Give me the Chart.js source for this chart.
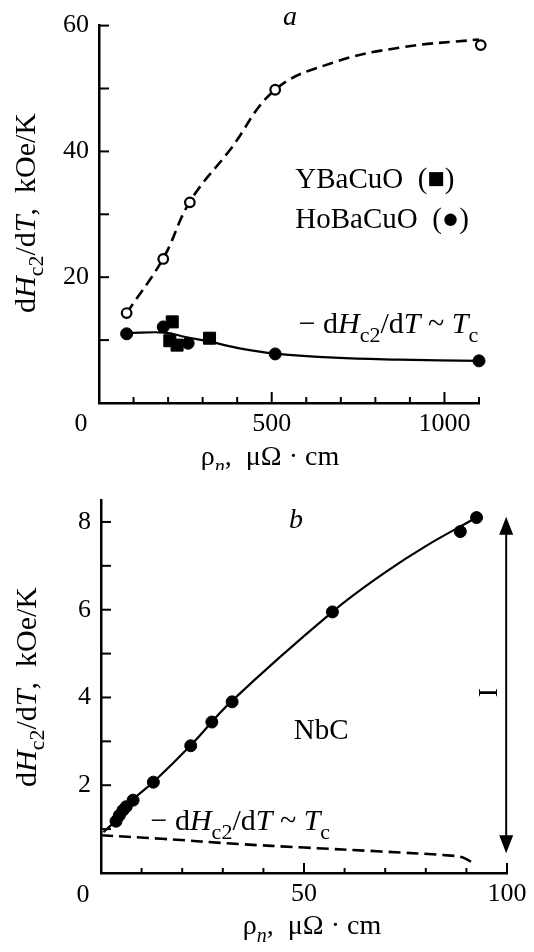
<!DOCTYPE html>
<html>
<head>
<meta charset="utf-8">
<script src="https://cdn.jsdelivr.net/npm/chart.js@4.4.1/dist/chart.umd.min.js"></script>
<style>
html, body { margin: 0; padding: 0; background: #fff; }
canvas { display: block; }
</style>
</head>
<body>
<canvas id="panelA" width="534" height="470"></canvas>
<canvas id="panelB" width="534" height="482"></canvas>
<script>
// panel a: rho_n (uOhm cm) vs dHc2/dT (kOe/K)
const rhoOpenA = [80, 186, 263, 510, 1105];
const dhOpenA = [14.3, 22.9, 31.9, 49.8, 56.9];
const rhoHoA = [80, 186, 258, 510, 1100];
const dhHoA = [11.0, 12.1, 9.5, 7.8, 6.7];
const rhoYA = [212, 205, 226, 320];
const dhYA = [12.9, 9.9, 9.2, 10.3];
const rhoUpperFitA = [80, 186, 263, 380, 510, 677, 870, 1100];
const dhUpperFitA = [14.3, 23, 32, 40.3, 49.8, 54.1, 56.5, 57.8];
const rhoTcFitA = [80, 190, 250, 320, 415, 510, 680, 870, 1100];
const dhTcFitA = [11.1, 11.2, 10.5, 9.75, 8.6, 7.85, 7.2, 6.9, 6.7];

// panel b: NbC
const rhoB = [3.7, 4.5, 5.4, 6.2, 7.9, 12.9, 22.1, 27.3, 32.3, 57.0, 88.5, 92.5];
const dhB = [1.18, 1.31, 1.43, 1.51, 1.66, 2.07, 2.90, 3.44, 3.90, 5.95, 7.78, 8.10];
const rhoFitB = [0.6, 3.7, 8, 13, 22, 32, 57, 70, 80, 92.5];
const dhFitB = [0.93, 1.2, 1.68, 2.08, 2.9, 3.9, 5.95, 6.85, 7.45, 8.1];
const rhoTcB = [0, 15, 34, 50, 69, 87, 89.5, 92];
const dhTcB = [0.86, 0.78, 0.66, 0.58, 0.49, 0.39, 0.34, 0.2];

const yTicksA = [20, 40, 60];
const xTicksA = [500, 1000];
const yTicksB = [2, 4, 6, 8];
const xTicksB = [50, 100];

const SERIF = '"Liberation Serif", "Times New Roman", serif';

function pts(xs, ys) {
    return xs.map(function (x, i) { return { x: x, y: ys[i] }; });
}

// draws runs of text: [text, style], style has 'i' for italic, 's' for subscript
function richText(ctx, runs, x, y, size, align) {
    const fontFor = function (st) {
        const sub = st.indexOf('s') >= 0;
        const it = st.indexOf('i') >= 0;
        return (it ? 'italic ' : '') + Math.round(sub ? size * 0.72 : size) + 'px ' + SERIF;
    };
    let total = 0;
    runs.forEach(function (r) {
        ctx.font = fontFor(r[1]);
        total += ctx.measureText(r[0]).width;
    });
    let cx = x;
    if (align === 'center') cx = x - total / 2;
    ctx.textAlign = 'left';
    ctx.textBaseline = 'alphabetic';
    ctx.fillStyle = '#000';
    runs.forEach(function (r) {
        ctx.font = fontFor(r[1]);
        const dy = r[1].indexOf('s') >= 0 ? size * 0.28 : 0;
        ctx.fillText(r[0], cx, y + dy);
        cx += ctx.measureText(r[0]).width;
    });
}

const yTitleRuns = [['d', ''], ['H', 'i'], ['c2', 's'], ['/d', ''], ['T', 'i'], [',  kOe/K', '']];
const xTitleRuns = [['\u03c1', ''], ['n', 'si'], [',  \u03bc\u03a9 \u00b7 cm', '']];
const tcRuns = [['\u2212 d', ''], ['H', 'i'], ['c2', 's'], ['/d', ''], ['T', 'i'], [' ~ ', ''], ['T', 'i'], ['c', 's']];

function drawFrame(chart, o) {
    const ctx = chart.ctx;
    const a = chart.chartArea;
    const xs = chart.scales.x, ys = chart.scales.y;
    ctx.save();
    ctx.strokeStyle = '#000';
    ctx.lineWidth = 2;
    xs.ticks.forEach(function (t) {
        if (t.value === 0) return;
        const px = xs.getPixelForValue(t.value);
        const len = o.xMajor.indexOf(t.value) >= 0 ? o.xLong : o.xShort;
        ctx.beginPath();
        ctx.moveTo(px, a.bottom);
        ctx.lineTo(px, a.bottom - len);
        ctx.stroke();
    });
    ys.ticks.forEach(function (t) {
        if (t.value === 0) return;
        const py = ys.getPixelForValue(t.value);
        ctx.beginPath();
        ctx.moveTo(a.left, py);
        ctx.lineTo(a.left + o.yLen, py);
        ctx.stroke();
    });
    // shared origin label
    ctx.fillStyle = '#000';
    ctx.font = '26px ' + SERIF;
    ctx.textAlign = 'center';
    ctx.textBaseline = 'middle';
    ctx.fillText('0', a.left - 18, a.bottom + o.labelGap + 15.6);
    // axis titles
    ctx.save();
    ctx.translate(o.yTitleX, o.yTitleY);
    ctx.rotate(-Math.PI / 2);
    richText(ctx, yTitleRuns, 0, 0, 30, 'center');
    ctx.restore();
    richText(ctx, xTitleRuns, o.xTitleX, o.xTitleY, 28, 'center');
    ctx.restore();
}

const panelAPlugin = {
    id: 'panelA',
    afterDatasetsDraw(chart) {
        const ctx = chart.ctx;
        const xs = chart.scales.x, ys = chart.scales.y;
        drawFrame(chart, {
            xMajor: xTicksA, xLong: 11, xShort: 6, yLen: 10, labelGap: 6,
            yTitleX: 35, yTitleY: 213, xTitleX: 270, xTitleY: 465
        });
        ctx.save();
        ctx.fillStyle = '#000';
        ctx.font = 'italic 28px ' + SERIF;
        ctx.textAlign = 'center';
        ctx.textBaseline = 'alphabetic';
        ctx.fillText('a', 290, 25);
        ctx.font = '29px ' + SERIF;
        ctx.textAlign = 'left';
        ctx.fillText('YBaCuO  (\u25a0)', xs.getPixelForValue(568), 188);
        ctx.fillText('HoBaCuO  (\u25cf)', xs.getPixelForValue(568), 228);
        richText(ctx, tcRuns, xs.getPixelForValue(578), ys.getPixelForValue(11.1), 30, 'left');
        ctx.restore();
    }
};

const panelBPlugin = {
    id: 'panelB',
    afterDatasetsDraw(chart) {
        const ctx = chart.ctx;
        const xs = chart.scales.x, ys = chart.scales.y;
        drawFrame(chart, {
            xMajor: xTicksB, xLong: 10, xShort: 5, yLen: 10, labelGap: 7,
            yTitleX: 36, yTitleY: 217, xTitleX: 312, xTitleY: 464
        });
        ctx.save();
        ctx.fillStyle = '#000';
        ctx.strokeStyle = '#000';
        ctx.font = 'italic 28px ' + SERIF;
        ctx.textAlign = 'center';
        ctx.textBaseline = 'alphabetic';
        ctx.fillText('b', 296, 58);
        ctx.font = '29px ' + SERIF;
        ctx.textAlign = 'left';
        ctx.fillText('NbC', xs.getPixelForValue(47.5), ys.getPixelForValue(3.05));
        richText(ctx, tcRuns, xs.getPixelForValue(12.2), ys.getPixelForValue(0.97), 30, 'left');
        // double arrow at the right edge
        const ax = xs.getPixelForValue(99.8);
        const top = ys.getPixelForValue(8.12), bot = ys.getPixelForValue(0.45);
        ctx.lineWidth = 2;
        ctx.beginPath();
        ctx.moveTo(ax, top + 10);
        ctx.lineTo(ax, bot - 10);
        ctx.stroke();
        ctx.beginPath();
        ctx.moveTo(ax, top); ctx.lineTo(ax - 7, top + 18); ctx.lineTo(ax + 7, top + 18);
        ctx.closePath(); ctx.fill();
        ctx.beginPath();
        ctx.moveTo(ax, bot); ctx.lineTo(ax - 7, bot - 18); ctx.lineTo(ax + 7, bot - 18);
        ctx.closePath(); ctx.fill();
        ctx.save();
        ctx.translate(xs.getPixelForValue(95.0), ys.getPixelForValue(4.11));
        ctx.rotate(Math.PI / 2);
        ctx.font = '28px ' + SERIF;
        ctx.textAlign = 'center';
        ctx.textBaseline = 'middle';
        ctx.fillText('I', 0, 0);
        ctx.restore();
        ctx.restore();
    }
};

function axisOpts(min, max, step, shown, fitSize, isY) {
    return {
        type: 'linear',
        min: min,
        max: max,
        afterFit: function (s) {
            if (isY) s.width = fitSize; else s.height = fitSize;
        },
        grid: { display: false, drawTicks: false },
        border: { display: true, color: '#000', width: 2.5 },
        ticks: {
            stepSize: step,
            includeBounds: false,
            autoSkip: false,
            maxRotation: 0,
            minRotation: 0,
            padding: isY ? 10 : 6,
            color: '#000',
            font: { family: SERIF, size: 26 },
            callback: function (v) { return shown.indexOf(v) >= 0 ? String(v) : ''; }
        }
    };
}

function markers(data, style, radius, fill) {
    return {
        data: data,
        showLine: false,
        pointStyle: style,
        pointRadius: radius,
        pointBackgroundColor: fill,
        pointBorderColor: '#000',
        pointBorderWidth: fill === '#fff' ? 2.2 : 1,
        clip: false
    };
}

function curve(data, dash) {
    return {
        data: data,
        showLine: true,
        pointRadius: 0,
        borderColor: '#000',
        borderWidth: dash.length ? 2.6 : 2.2,
        borderDash: dash,
        tension: 0.4,
        clip: false
    };
}

const common = {
    responsive: false,
    animation: false,
    devicePixelRatio: 1,
    plugins: { legend: { display: false }, tooltip: { enabled: false } }
};

new Chart(document.getElementById('panelA'), {
    type: 'scatter',
    data: {
        datasets: [
            markers(pts(rhoYA, dhYA), 'rect', 8.5, '#000'),
            markers(pts(rhoHoA, dhHoA), 'circle', 6, '#000'),
            markers(pts(rhoOpenA, dhOpenA), 'circle', 4.8, '#fff'),
            curve(pts(rhoUpperFitA, dhUpperFitA), [11, 6]),
            curve(pts(rhoTcFitA, dhTcFitA), [])
        ]
    },
    options: Object.assign({}, common, {
        layout: { padding: { top: 25, right: 55, bottom: 0, left: 0 } },
        scales: {
            x: axisOpts(0, 1100, 100, xTicksA, 67, false),
            y: axisOpts(0, 60, 10, yTicksA, 99, true)
        }
    }),
    plugins: [panelAPlugin]
});

new Chart(document.getElementById('panelB'), {
    type: 'scatter',
    data: {
        datasets: [
            markers(pts(rhoB, dhB), 'circle', 6, '#000'),
            curve(pts(rhoFitB, dhFitB), []),
            curve(pts(rhoTcB, dhTcB), [12, 6])
        ]
    },
    options: Object.assign({}, common, {
        layout: { padding: { top: 30, right: 27, bottom: 0, left: 0 } },
        scales: {
            x: axisOpts(0, 100, 10, xTicksB, 79, false),
            y: axisOpts(0, 8.5, 1, yTicksB, 101, true)
        }
    }),
    plugins: [panelBPlugin]
});
</script>
</body>
</html>
